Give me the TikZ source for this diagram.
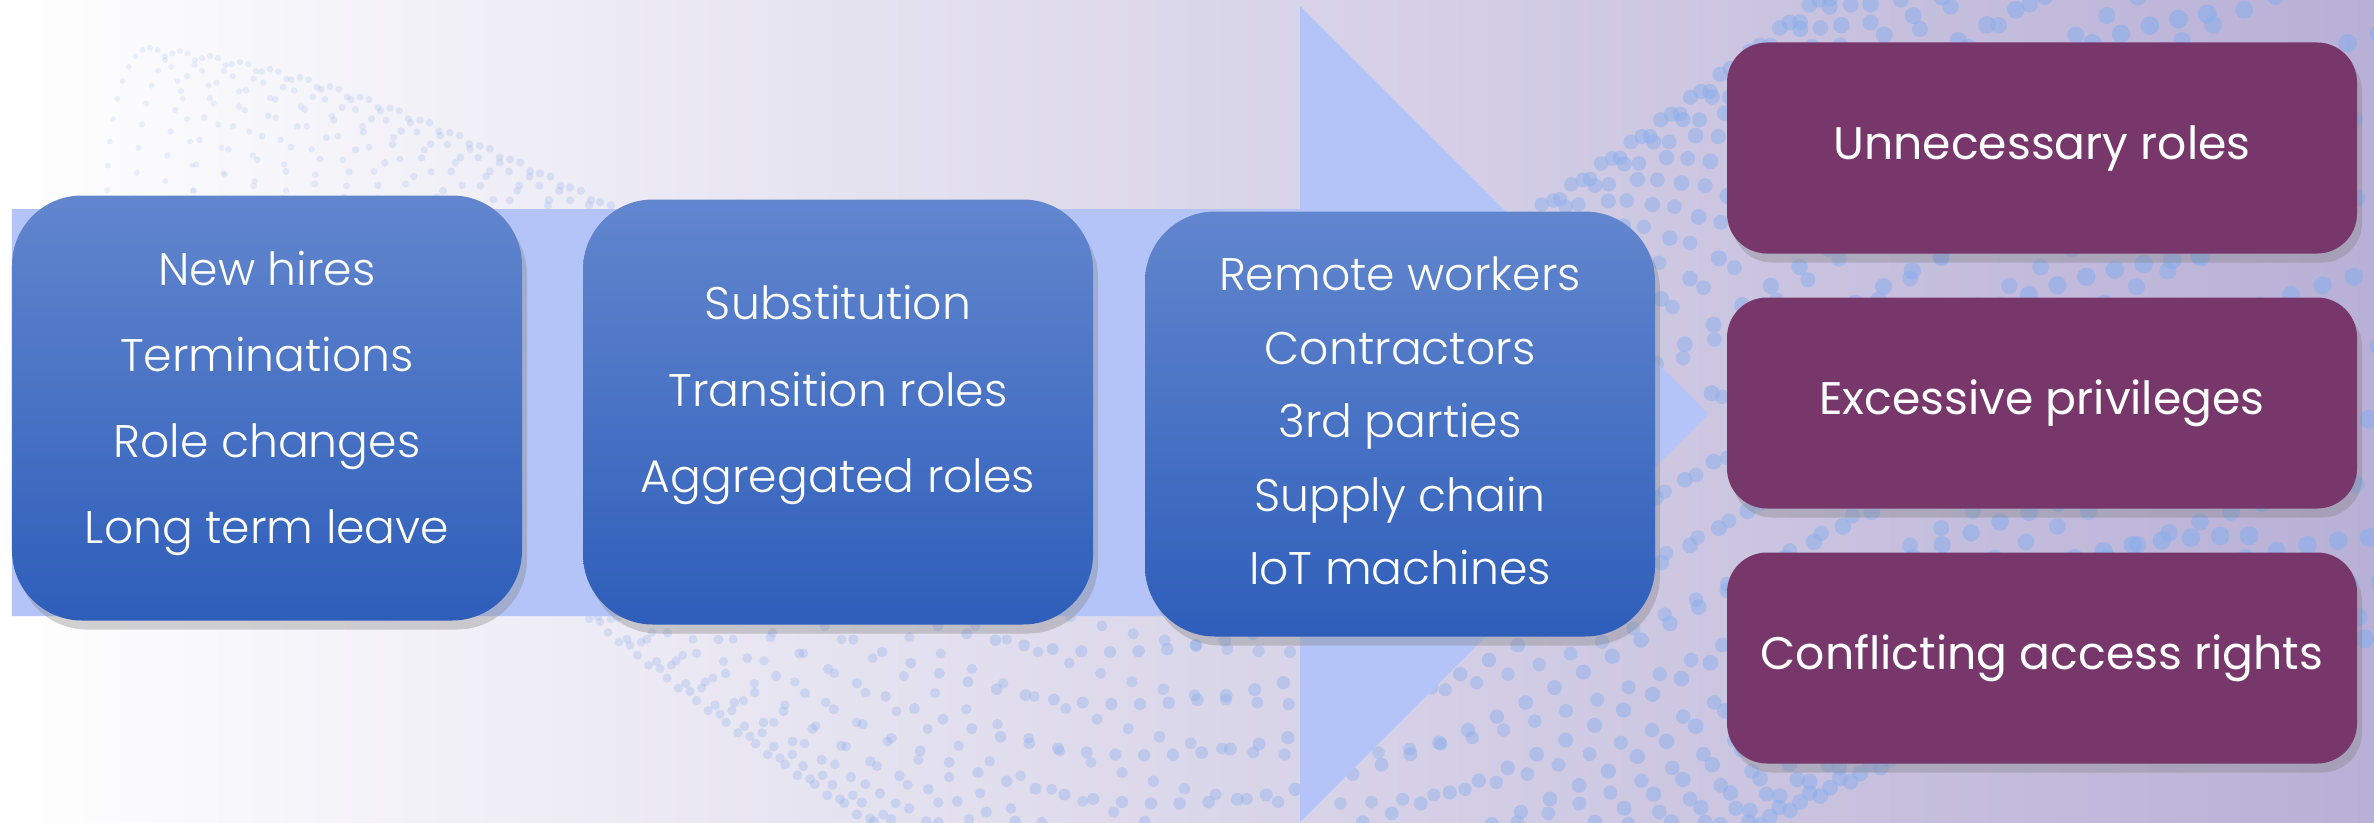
\documentclass[tikz,border=0pt]{standalone}
\usepackage{fontspec}
\setmainfont{Poppins}
\newfontfamily\lightfont{Poppins}[UprightFont={* Light}]
\usetikzlibrary{shadows}

\definecolor{bandblue}{RGB}{180,196,248}
\definecolor{boxtop}{RGB}{98,134,206}
\definecolor{boxbot}{RGB}{46,94,186}
\definecolor{riskpurple}{RGB}{119,55,107}
\definecolor{bgright}{RGB}{184,176,214}
\definecolor{dotblue}{RGB}{138,174,236}

\begin{document}
\begin{tikzpicture}
	[cause/.style={rounded corners=7mm,top color=boxtop,bottom color=boxbot,
	   minimum width=5.1cm,minimum height=4.25cm,
	   drop shadow={shadow xshift=0.5mm,shadow yshift=-0.9mm,opacity=0.35}},
	 causetext/.style={align=center,text=white},
	 risk/.style={rounded corners=4mm,fill=riskpurple,text=white,
	   minimum width=6.3cm,minimum height=2.11cm,
	   font=\fontsize{13}{16}\selectfont,
	   drop shadow={shadow xshift=0.5mm,shadow yshift=-0.9mm,opacity=0.35}},
	 band/.style={fill=bandblue},
	 dot/.style={fill=dotblue}]

	\path [use as bounding box] (0,0) rectangle (23.74,8.22);
	\clip (0,0) rectangle (23.74,8.22);
	\shade [left color=white,right color=bgright] (0,0) rectangle (23.74,8.22);

	% twisted ring of dots in the background
	\foreach \x in {1.5,1.8,...,23.7} {
		\pgfmathsetmacro\ry{1.2+0.15*\x}
		\pgfmathsetmacro\rx{0.3*\ry}
		\pgfmathsetmacro\cy{4.1+2.4*cos(15*\x)}
		\pgfmathsetmacro\op{0.12+0.5*\x/23.7}
		\pgfmathsetmacro\rd{0.025+0.003*\x}
		\foreach \a in {0,10,...,350}
			\fill[dot,opacity=\op] ({\x+\rx*cos(\a)},{\cy+\ry*sin(\a)}) circle (\rd);
	}

	% big arrow behind the boxes
	\fill[band] (0.12,2.06) -- (13,2.06) -- (13,0) -- (17.08,4.08)
	            -- (13,8.16) -- (13,6.13) -- (0.12,6.13) -- cycle;

	\node[cause] (staff)    at (2.67,4.14) {};
	\node[cause] (roles)    at (8.38,4.10) {};
	\node[cause] (external) at (14.0,3.98) {};

	\node[causetext,font=\lightfont\fontsize{13}{24.5}\selectfont]
		(stafftext) at ([yshift=0.45mm]staff.center)
		{New hires\\Terminations\\Role changes\\Long term leave};
	\node[causetext,font=\lightfont\fontsize{13}{24.7}\selectfont]
		(rolestext) at ([yshift=1.7mm]roles.center)
		{Substitution\\Transition roles\\Aggregated roles};
	\node[causetext,font=\lightfont\fontsize{13}{20.9}\selectfont]
		(externaltext) at ([yshift=0.3mm]external.center)
		{Remote workers\\Contractors\\3rd parties\\Supply chain\\IoT machines};

	\node[risk] (unneeded)    at (20.42,6.74) {Unnecessary roles};
	\node[risk] (excessive)   at (20.42,4.19) {Excessive privileges};
	\node[risk] (conflicting) at (20.42,1.64) {Conflicting access rights};
\end{tikzpicture}
\end{document}
